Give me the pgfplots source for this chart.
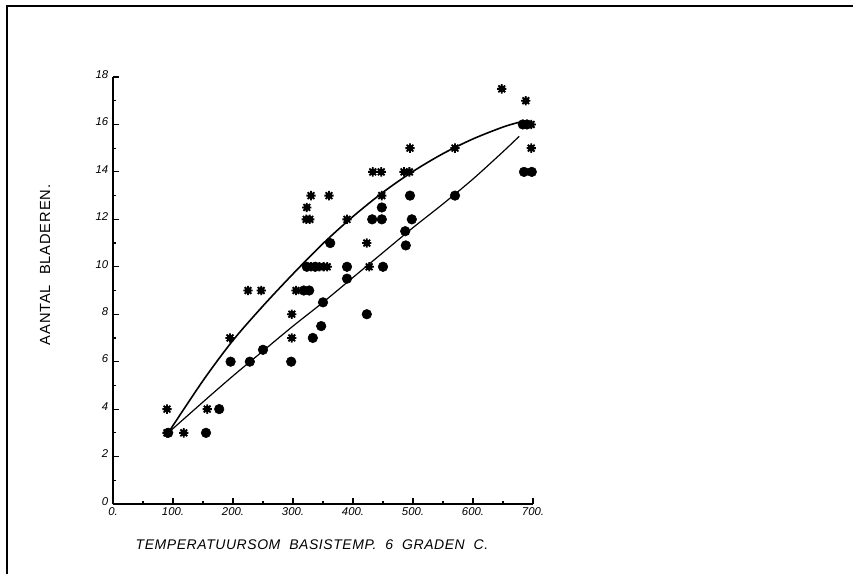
\documentclass[border=0pt]{standalone}
\usepackage{pgfplots}
\pgfplotsset{compat=1.18}
\usepackage{fontspec}
\setmainfont{Liberation Sans}
\newfontfamily\lblfont[LetterSpace=6]{Liberation Sans}
\newfontfamily\xlblfont[LetterSpace=4]{Liberation Sans}

\pgfdeclareplotmark{spiky}{%
  \pgfpathcircle{\pgfpoint{0pt}{0pt}}{0.74\pgfplotmarksize}\pgfusepathqfill
  \pgfsetlinewidth{1.4pt}%
  \pgfpathmoveto{\pgfpoint{-\pgfplotmarksize}{0pt}}\pgfpathlineto{\pgfpoint{\pgfplotmarksize}{0pt}}%
  \pgfpathmoveto{\pgfpoint{0pt}{-\pgfplotmarksize}}\pgfpathlineto{\pgfpoint{0pt}{\pgfplotmarksize}}%
  \pgfpathmoveto{\pgfpoint{-0.72\pgfplotmarksize}{-0.72\pgfplotmarksize}}\pgfpathlineto{\pgfpoint{0.72\pgfplotmarksize}{0.72\pgfplotmarksize}}%
  \pgfpathmoveto{\pgfpoint{-0.72\pgfplotmarksize}{0.72\pgfplotmarksize}}\pgfpathlineto{\pgfpoint{0.72\pgfplotmarksize}{-0.72\pgfplotmarksize}}%
  \pgfusepathqstroke
}

\begin{document}
\begin{tikzpicture}[x=0.75pt,y=0.75pt]
\path[use as bounding box] (0,0) rectangle (853,579);
\draw[line width=1.1pt] (7,5) -- (7,573) -- (853,573);
\begin{axis}[
  at={(84.75pt,56.25pt)}, anchor=south west,
  scale only axis, width=315pt, height=320.25pt,
  xmin=0, xmax=700, ymin=0, ymax=18,
  axis x line*=bottom, axis y line*=left,
  axis line style={line width=1pt},
  xtick={0,100,...,700},
  xticklabels={0.,100.,200.,300.,400.,500.,600.,700.},
  ytick={0,2,...,18},
  yticklabels={0,2,4,6,8,10,12,14,16,18},
  minor tick num=1,
  tick align=inside,
  major tick length=4.5pt, minor tick length=2.5pt,
  tick style={line width=0.9pt, black},
  xticklabel style={font=\fontsize{8.5}{8.5}\selectfont\itshape, yshift=0.5pt},
  yticklabel style={font=\fontsize{8.5}{8.5}\selectfont\itshape, xshift=0pt, yshift=2pt},
  clip=false,
]
% lower (dots) fitted curve
\addplot[black, line width=0.9pt, smooth] coordinates {
(92,3) (150,4.3) (200,5.4) (250,6.45) (300,7.5) (350,8.5) (400,9.55)
(450,10.6) (500,11.65) (550,12.65) (600,13.7) (650,14.85) (677,15.5)};
% upper (stars) fitted curve
\addplot[black, line width=1.2pt, smooth] coordinates {
(92,3) (150,5.2) (200,6.9) (250,8.35) (300,9.7) (350,10.98) (400,12.12)
(450,13.14) (500,14.02) (550,14.77) (600,15.39) (650,15.89) (678,16.1)};
% stars
\addplot[only marks, mark=spiky, mark size=3.5pt, black] coordinates {
(90,3) (90,4) (118,3) (157,4) (195,7) (225,9) (247,9) (298,8) (298,7) (305,9)
(323,12.5) (322,12) (328,12) (330,13) (360,13) (330,10) (344,10) (351,10) (357,10)
(390,12) (423,11) (427,10) (433,14) (447,14) (448,13) (485,14) (494,14) (495,15)
(570,15) (648,17.5) (688,17) (697,16) (697,15)};
% dots
\addplot[only marks, mark=*, mark size=3.6pt, black] coordinates {
(92,3) (155,3) (177,4) (196,6) (228,6) (250,6.5) (297,6) (323,10) (337,10)
(318,9) (327,9) (333,7) (347,7.5) (350,8.5) (362,11) (390,10) (390,9.5) (423,8)
(432,12) (448,12) (448,12.5) (450,10) (487,11.5) (488,10.9) (495,13) (498,12)
(570,13) (683,16) (690,16) (685,14) (698,14)};
\end{axis}
\node[font=\xlblfont\fontsize{10.5}{10.5}\selectfont\itshape] at (312,34) {TEMPERATUURSOM\ \ BASISTEMP.\ \ 6\ \ GRADEN\ \ C.};
\node[font=\lblfont\fontsize{11}{11}\selectfont, rotate=90] at (45,314) {AANTAL\ \ BLADEREN.};
\end{tikzpicture}
\end{document}
